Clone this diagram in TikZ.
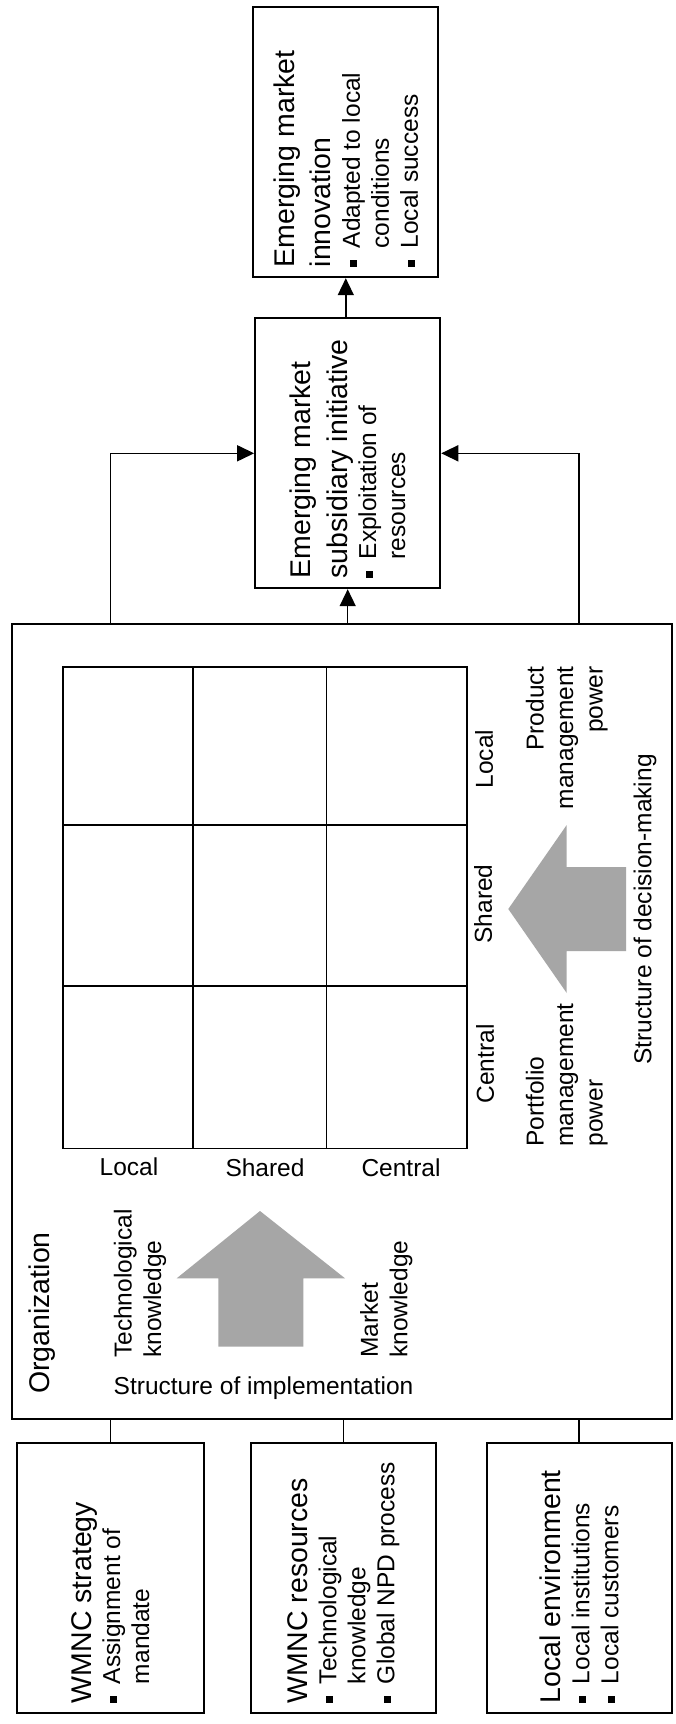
\documentclass[tikz,border=0pt]{standalone}
\usepackage{fontspec}
\setmainfont{Liberation Sans}
\usetikzlibrary{arrows.meta}
\definecolor{arrowgray}{RGB}{166,166,166}
\newcommand{\titlef}{\fontsize{28.5}{36.5}\selectfont\spaceskip=0pt\xspaceskip=0pt\relax}
\newcommand{\itemf}{\fontsize{24.5}{29}\selectfont\spaceskip=0pt\xspaceskip=0pt\relax}
\newcommand{\lblf}{\fontsize{24.5}{29.5}\selectfont}
\newcommand{\bul}{\makebox[19pt][l]{\raisebox{3pt}{\rule{7pt}{7pt}}}}
\newcommand{\bulind}{\hspace*{19pt}}
\tikzset{
  box/.style={draw, line width=1.8pt, inner sep=0pt},
  boxtext/.style={rotate=90, text width=250pt, align=left, inner sep=0pt, font=\itemf},
  conn/.style={line width=1.5pt},
  arrowconn/.style={conn, -{Triangle[length=17pt,width=16pt]}},
  lbl/.style={inner sep=0pt, font=\lblf},
  rlbl/.style={lbl, rotate=90},
  gridline/.style={line width=1.8pt},
  bigarrow/.style={fill=arrowgray}
}
\begin{document}
\begin{tikzpicture}[x=1pt,y=-1pt]
\useasboundingbox (0,0) rectangle (676,1724);
\fill[white] (0,0) rectangle (676,1724);

% boxes
\node[box, minimum width=185pt, minimum height=270pt] (top) at (345.8,142.3) {};
\node[box, minimum width=185.3pt, minimum height=270pt] (mid) at (347.7,453.3) {};
\node[box, minimum width=659.4pt, minimum height=795pt] (org) at (342,1021.5) {};
\node[box, minimum width=187.3pt, minimum height=270pt] (b1) at (110.35,1578) {};
\node[box, minimum width=185.3pt, minimum height=270pt] (b2) at (343.35,1578) {};
\node[box, minimum width=185pt, minimum height=270pt] (b3) at (579.2,1578) {};

% box texts
\node[boxtext] (toptext) at (top) {{\titlef Emerging market\\innovation\par}{\itemf\bul Adapted to local\\\bulind conditions\\\bul Local success\par}};
\node[boxtext] (midtext) at (mid) {{\titlef Emerging market\\subsidiary initiative\par}{\itemf\bul Exploitation of\\\bulind resources\par}};
\node[boxtext] (b1text) at (b1) {{\titlef WMNC strategy\par}{\itemf\bul Assignment of\\\bulind mandate\par}};
\node[boxtext] (b2text) at (b2) {{\titlef WMNC resources\par}{\itemf\bul Technological\\\bulind knowledge\\\bul Global NPD process\par}};
\node[boxtext] (b3text) at (b3) {{\titlef Local environment\par}{\itemf\bul Local institutions\\\bul Local customers\par}};

% connectors
\draw[arrowconn] (b1 |- org.north) |- (mid.west);
\draw[arrowconn] (b3 |- org.north) |- (mid.east);
\draw[arrowconn] (mid |- org.north) -- (mid.south);
\draw[arrowconn] (top |- mid.north) -- (top.south);
\draw[conn] (b1.north) -- (b1 |- org.south);
\draw[conn] (b2.north) -- (b2 |- org.south);
\draw[conn] (b3.north) -- (b3 |- org.south);

% grid
\draw[gridline] (63.3,666.7) rectangle (466.7,1148.5);
\draw[gridline] (192.7,666.7) -- (192.7,1148.5);
\draw[gridline] (326.5,666.7) -- (326.5,1148.5);
\draw[gridline] (63.3,825.3) -- (466.7,825.3);
\draw[gridline] (63.3,986) -- (466.7,986);

% column labels
\node[lbl] (cLocal) at (129,1166.7) {Local};
\node[lbl] (cShared) at (265,1168) {Shared};
\node[lbl] (cCentral) at (401,1168) {Central};

% row labels
\node[rlbl] (rLocal) at (484,759) {Local};
\node[rlbl] (rShared) at (483,904) {Shared};
\node[rlbl] (rCentral) at (485,1064) {Central};

% grey arrows
\fill[bigarrow] (260,1211) -- (345,1278.3) -- (303.3,1278.3) -- (303.3,1346.7)
  -- (218.3,1346.7) -- (218.3,1278.3) -- (176.7,1278.3) -- cycle;
\fill[bigarrow] (508.3,909) -- (566.7,825) -- (566.7,867) -- (626,867)
  -- (626,951) -- (566.7,951) -- (566.7,993) -- cycle;

% texts in organization
\node[rlbl, font=\titlef] (orgl) at (41.7,1313) {Organization};
\node[rlbl, anchor=west, align=left] (tech) at (140,1358) {Technological\\knowledge};
\node[rlbl, anchor=west, align=left] (mkt) at (386.3,1358) {Market\\knowledge};
\node[lbl] (soi) at (263.5,1388) {Structure of implementation};
\node[rlbl, anchor=east, align=right] (pmp) at (566.7,666) {Product\\management\\power};
\node[rlbl, anchor=west, align=left] (pfp) at (566.7,1146.7) {Portfolio\\management\\power};
\node[rlbl] (sdm) at (645,909.5) {Structure of decision-making};
\end{tikzpicture}
\end{document}
